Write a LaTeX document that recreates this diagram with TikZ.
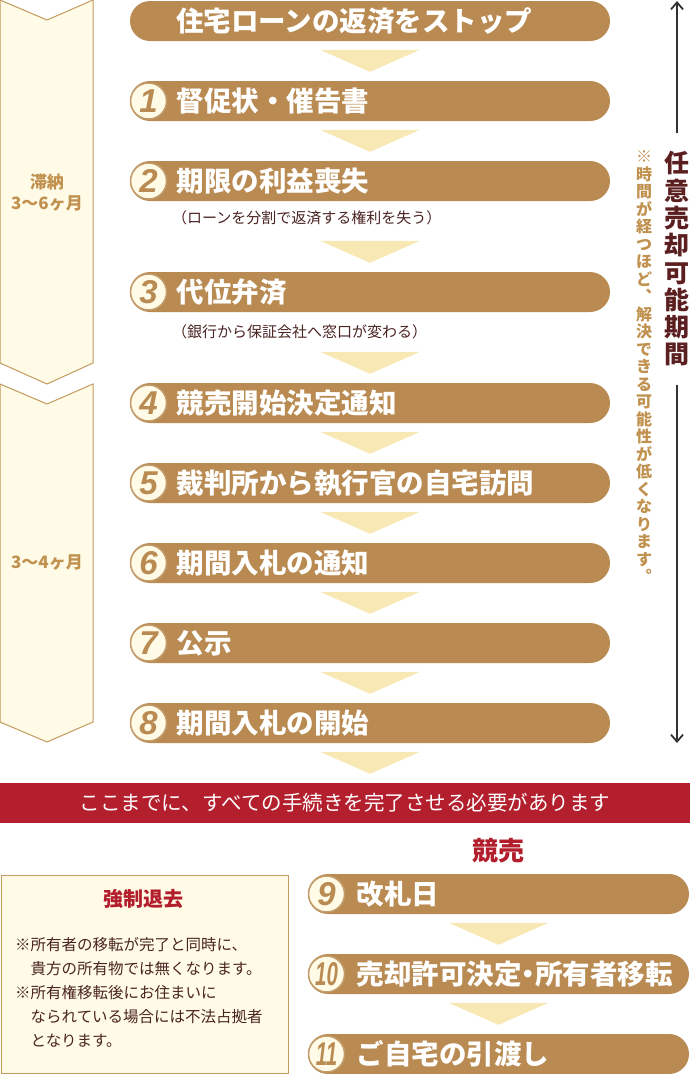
\documentclass[tikz,border=0pt]{standalone}
\usepackage{fontspec}
\setmainfont{Noto Sans CJK JP}
\newfontfamily\numfont{Liberation Sans}
\usetikzlibrary{arrows.meta,calc,positioning}

\definecolor{pillbrown}{HTML}{B98B52}
\definecolor{cream}{HTML}{FFFBE6}
\definecolor{chevline}{HTML}{C49A5E}
\definecolor{triyellow}{HTML}{F8E8B4}
\definecolor{bandred}{HTML}{B41F2D}
\definecolor{kred}{HTML}{B21E2C}
\definecolor{darktxt}{HTML}{4A2422}
\definecolor{notebrown}{HTML}{C0914F}
\definecolor{kikanred}{HTML}{5B1F20}
\definecolor{kline}{HTML}{333333}

% one character per line, for the vertical texts
\makeatletter
\newcommand\tate[1]{\@tfor\tchar:=#1\do{\tchar\par}}
\makeatother

\tikzset{
  pill/.style={fill=pillbrown, rounded corners=20pt, minimum height=40pt, inner sep=0pt},
  pilltxt/.style={text=white, font=\fontsize{27.5}{30}\selectfont\bfseries, inner sep=0pt},
  numcirc/.style={circle, fill=cream, draw=pillbrown!85, line width=1.5pt, minimum size=36pt, inner sep=0pt,
    text=pillbrown, font=\numfont\fontsize{33}{33}\selectfont\bfseries\itshape},
  subtxt/.style={text=darktxt, font=\fontsize{15}{18}\selectfont, inner sep=0pt, anchor=west},
  chev/.style={fill=cream, draw=chevline, line width=1pt},
  chevtxt/.style={text=notebrown, align=center, font=\fontsize{17}{21}\selectfont\bfseries},
  downtri/.style={fill=triyellow},
  kikan/.style={text=kikanred, text width=26pt, align=center, inner xsep=0pt, inner ysep=18pt,
    font=\fontsize{25}{27.3}\selectfont\bfseries},
  note/.style={text=notebrown, text width=18pt, align=center, inner sep=0pt,
    font=\fontsize{16}{17.5}\selectfont\bfseries},
  kline/.style={draw=kline, line width=1.8pt},
}

\begin{document}
\begin{tikzpicture}[x=1pt,y=-1pt]
\useasboundingbox (0,0) rectangle (690,1074);

% left chevrons
\draw[chev] (0,0) -- (47,20) -- (93,0) -- (93,363) -- (47,384) -- (0,363) -- cycle;
\draw[chev] (0,384) -- (47,404) -- (93,384) -- (93,722) -- (47,742) -- (0,722) -- cycle;
\node[chevtxt] (c1) at (47,193) {滞納\\3〜6ヶ月};
\node[chevtxt] (c2) at (47,563) {3〜4ヶ月};

% main column
\node[pill, minimum width=480pt] (p0) at (370,21) {};
\node[pilltxt, right=46pt of p0.west] (t0) {住宅ローンの返済をストップ};

\node[pill, minimum width=480pt] (p1) at (370,101) {};
\node[numcirc, right=0pt of p1.west] (n1) {1};
\node[pilltxt, right=9pt of n1] (t1) {督促状・催告書};

\node[pill, minimum width=480pt] (p2) at (370,181) {};
\node[numcirc, right=0pt of p2.west] (n2) {2};
\node[pilltxt, right=9pt of n2] (t2) {期限の利益喪失};
\node[subtxt] (s2) at (172,218) {（ローンを分割で返済する権利を失う）};

\node[pill, minimum width=480pt] (p3) at (370,292) {};
\node[numcirc, right=0pt of p3.west] (n3) {3};
\node[pilltxt, right=9pt of n3] (t3) {代位弁済};
\node[subtxt] (s3) at (172,332) {（銀行から保証会社へ窓口が変わる）};

\node[pill, minimum width=480pt] (p4) at (370,403) {};
\node[numcirc, right=0pt of p4.west] (n4) {4};
\node[pilltxt, right=9pt of n4] (t4) {競売開始決定通知};

\node[pill, minimum width=480pt] (p5) at (370,483) {};
\node[numcirc, right=0pt of p5.west] (n5) {5};
\node[pilltxt, right=9pt of n5] (t5) {裁判所から執行官の自宅訪問};

\node[pill, minimum width=480pt] (p6) at (370,563) {};
\node[numcirc, right=0pt of p6.west] (n6) {6};
\node[pilltxt, right=9pt of n6] (t6) {期間入札の通知};

\node[pill, minimum width=480pt] (p7) at (370,643) {};
\node[numcirc, right=0pt of p7.west] (n7) {7};
\node[pilltxt, right=9pt of n7] (t7) {公示};

\node[pill, minimum width=480pt] (p8) at (370,723) {};
\node[numcirc, right=0pt of p8.west] (n8) {8};
\node[pilltxt, right=9pt of n8] (t8) {期間入札の開始};

% red band
\node[fill=bandred, minimum width=690pt, minimum height=40pt, inner sep=0pt, text=white,
  font=\fontsize{20.5}{24}\selectfont] (band) at (345,803) {ここまでに、すべての手続きを完了させる必要があります};

% auction part
\node[text=kred, font=\fontsize{26}{30}\selectfont\bfseries] (kb) at (498,851) {競売};

\node[pill, minimum width=381pt] (p9) at (498.5,894) {};
\node[numcirc, right=0pt of p9.west] (n9) {9};
\node[pilltxt, right=11pt of n9] (t9) {改札日};

\node[pill, minimum width=381pt] (p10) at (498.5,974) {};
\node[numcirc, right=0pt of p10.west] (n10) {\scalebox{0.62}[1]{10}};
\node[pilltxt, right=11pt of n10] (t10) {売却許可決定\kern-7pt・\kern-7pt所有者移転};

\node[pill, minimum width=381pt] (p11) at (498.5,1054) {};
\node[numcirc, right=0pt of p11.west] (n11) {\scalebox{0.62}[1]{11}};
\node[pilltxt, right=11pt of n11] (t11) {ご自宅の引渡し};

% down triangles between steps
\foreach \a/\b in {p0/p1,p1/p2,p2/p3,p3/p4,p4/p5,p5/p6,p6/p7,p7/p8,p8/band,p9/p10,p10/p11}
  \fill[downtri] ($(\b.north -| \a.south)+(-50,-31)$) -- ++(100,0) -- ($(\b.north -| \a.south)+(0,-9)$) -- cycle;

% eviction box
\node[fill=cream, draw=chevline, line width=1pt, anchor=north west, minimum width=287pt,
  minimum height=198pt, inner sep=0pt] (box) at (0.5,875) {};
\node[text=kred, font=\fontsize{20}{24}\selectfont\bfseries] (boxtitle) at (143,899) {強制退去};
\node[anchor=north west, align=left, text=darktxt, inner sep=0pt,
  font=\fontsize{15.5}{24}\selectfont] (boxtxt) at (15,937) {※所有者の移転が完了と同時に、\\　貴方の所有物では無くなります。\\※所有権移転後にお住まいに\\　なられている場合には不法占拠者\\　となります。};

% right side period
\node[kikan] (kikan) at (677,259) {\tate{任意売却可能期間}};
\coordinate (ktop) at (677,1);
\coordinate (kbot) at (677,743);
\draw[kline, {Straight Barb[length=7pt,width=12pt]}-] (ktop) -- (kikan.north);
\draw[kline, -{Straight Barb[length=7pt,width=12pt]}] (kikan.south) -- (kbot);
\node[note] (note) at (644,367) {\tate{※時間が経つほど︑解決できる可能性が低くなります︒}};
\end{tikzpicture}
\end{document}
